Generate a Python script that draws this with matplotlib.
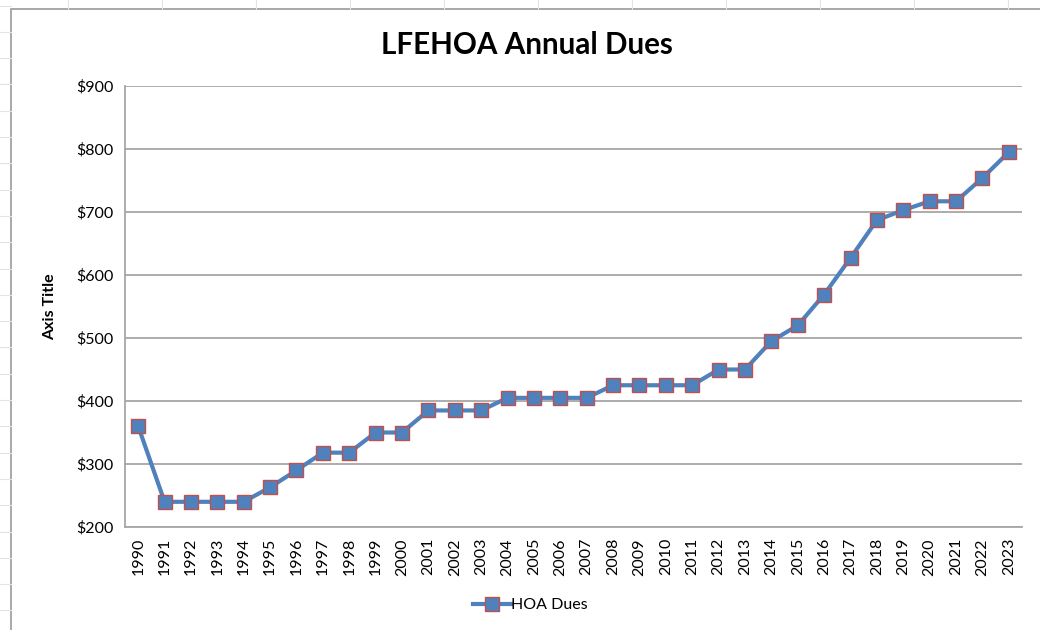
import matplotlib
matplotlib.use("Agg")
import matplotlib.pyplot as plt
from matplotlib.lines import Line2D
from matplotlib.patches import Rectangle
from matplotlib.ticker import FuncFormatter

years = list(range(1990, 2024))
dues = [360, 240, 240, 240, 240, 263, 290, 318, 318, 350,
        350, 385, 385, 385, 405, 405, 405, 405, 425, 425,
        425, 425, 450, 450, 495, 520, 569, 627, 687, 703,
        717, 717, 754, 795]

BLUE = "#4F81BD"
RED = "#C0504D"
GRID = "#A6A6A6"
FONT = "Lato"

W, H = 1040, 630
fig = plt.figure(figsize=(W / 100, H / 100), dpi=100)


def fx(px):
    return px / W


def fy(py):
    return 1 - py / H


# spreadsheet cell lines around the chart object
for k in range(24):
    y = 5.5 + 26.3 * k
    fig.add_artist(Line2D([0, fx(11)], [fy(y)] * 2, color="#E3E3E3", lw=0.8))
for x in range(68, W, 94):
    fig.add_artist(Line2D([fx(x)] * 2, [fy(0), fy(9)], color="#E3E3E3", lw=0.8))

# chart area border
fig.add_artist(Rectangle((fx(11), fy(640)), fx(1040), fy(9) - fy(640),
                         fill=False, edgecolor="#9A9A9A", lw=1.2))

ax = fig.add_axes([fx(125), fy(527), fx(1022) - fx(125), fy(86) - fy(527)])
x = range(len(years))
ax.plot(x, dues, color=BLUE, lw=3, marker="s", markersize=10.5,
        markerfacecolor=BLUE, markeredgecolor=RED, markeredgewidth=1,
        label="HOA Dues", solid_joinstyle="round")

ax.set_xlim(-0.5, len(years) - 0.5)
ax.set_ylim(200, 900)
ax.set_yticks(range(200, 901, 100))
ax.yaxis.set_major_formatter(FuncFormatter(lambda v, _: f"${v:.0f}"))
ax.set_xticks(list(x))
ax.set_xticklabels([str(y) for y in years], rotation=90)

ax.grid(axis="y", color=GRID, lw=1.3)
ax.set_axisbelow(True)
for s in ("top", "right"):
    ax.spines[s].set_visible(False)
for s in ("left", "bottom"):
    ax.spines[s].set_color(GRID)
    ax.spines[s].set_linewidth(1.3)
ax.tick_params(length=0, labelsize=11.5, pad=8)
for lab in ax.get_xticklabels() + ax.get_yticklabels():
    lab.set_fontfamily(FONT)
    lab.set_color("#000000")

ax.set_ylabel("Axis Title", fontfamily=FONT, fontweight="bold", fontsize=11.5,
              labelpad=14)
fig.text(fx(527), fy(45), "LFEHOA Annual Dues", ha="center", va="center",
         fontfamily=FONT, fontweight="bold", fontsize=21.3)

fig.legend(loc="center", bbox_to_anchor=(fx(530), fy(605)), frameon=False,
           prop={"family": FONT, "size": 11.5}, handlelength=2.4,
           handletextpad=0.0)

fig.savefig("out.png", dpi=100)
